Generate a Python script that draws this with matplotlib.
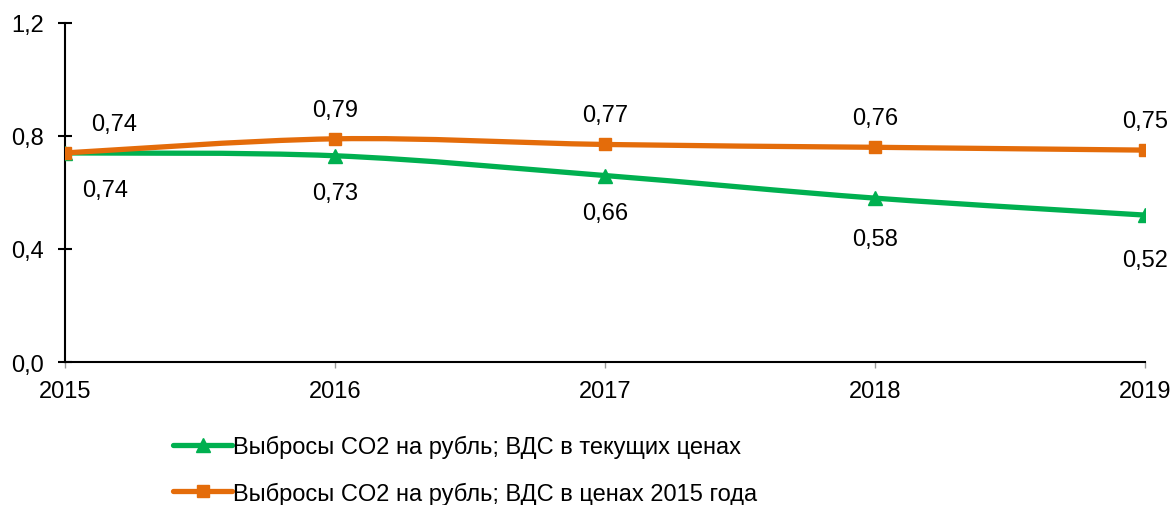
import matplotlib
matplotlib.use("Agg")
import matplotlib.pyplot as plt
from matplotlib.path import Path
from matplotlib.patches import PathPatch
from matplotlib.lines import Line2D
import numpy as np

plt.rcParams['font.family'] = ['Liberation Sans', 'DejaVu Sans']

years = [2015, 2016, 2017, 2018, 2019]
current_prices = [0.74, 0.73, 0.66, 0.58, 0.52]
prices_2015 = [0.74, 0.79, 0.77, 0.76, 0.75]
yticks = [0.0, 0.4, 0.8, 1.2]
label_current = "Выбросы CO2 на рубль; ВДС в текущих ценах"
label_2015 = "Выбросы CO2 на рубль; ВДС в ценах 2015 года"

GREEN = "#00B050"
ORANGE = "#E46C0A"
FS = 17

fig = plt.figure(figsize=(11.72, 5.06), dpi=100)
ax = fig.add_axes([0.0555, 0.2826, 0.9215, 0.67])


def smooth_path(xs, ys, t=1.0 / 6.0):
    xs = np.asarray(xs, float)
    ys = np.asarray(ys, float)
    n = len(xs)
    verts = [(xs[0], ys[0])]
    codes = [Path.MOVETO]
    for i in range(n - 1):
        p0 = (xs[i - 1], ys[i - 1]) if i > 0 else (xs[i], ys[i])
        p1 = (xs[i], ys[i])
        p2 = (xs[i + 1], ys[i + 1])
        p3 = (xs[i + 2], ys[i + 2]) if i + 2 < n else (xs[i + 1], ys[i + 1])
        c1 = (p1[0] + (p2[0] - p0[0]) * t, p1[1] + (p2[1] - p0[1]) * t)
        c2 = (p2[0] - (p3[0] - p1[0]) * t, p2[1] - (p3[1] - p1[1]) * t)
        verts += [c1, c2, p2]
        codes += [Path.CURVE4] * 3
    return Path(verts, codes)


for vals, col, mk, ms in [(current_prices, GREEN, '^', 9.5), (prices_2015, ORANGE, 's', 9)]:
    ax.add_patch(PathPatch(smooth_path(years, vals), facecolor='none', edgecolor=col,
                           lw=3.8, capstyle='round', zorder=3))
    ax.plot(years, vals, linestyle='none', marker=mk, color=col, markersize=ms, zorder=4)

for i, (x, v) in enumerate(zip(years, current_prices)):
    dx = 29 if i == 0 else 0
    dy = -27 - 2.5 * max(0, i - 2)
    ax.annotate(f"{v:.2f}".replace('.', ','), (x, v), xytext=(dx, dy), textcoords='offset points',
                ha='center', va='center', fontsize=FS, color='black')
for i, (x, v) in enumerate(zip(years, prices_2015)):
    dx = 35 if i == 0 else 0
    ax.annotate(f"{v:.2f}".replace('.', ','), (x, v), xytext=(dx, 21), textcoords='offset points',
                ha='center', va='center', fontsize=FS, color='black')

ax.set_xlim(years[0], years[-1])
ax.set_ylim(0, 1.2)
ax.set_xticks(years)
ax.set_xticklabels([str(y) for y in years], fontsize=FS)
ax.set_yticks(yticks)
ax.set_yticklabels([f"{v:.1f}".replace('.', ',') for v in yticks], fontsize=FS)
for s in ['top', 'right']:
    ax.spines[s].set_visible(False)
ax.spines['left'].set_linewidth(1.5)
ax.spines['bottom'].set_linewidth(1.5)
ax.tick_params(axis='y', direction='inout', length=10, width=1.5, pad=10)
ax.tick_params(axis='x', direction='out', length=4.3, width=1, color='#999999', pad=9)

handles = [
    Line2D([], [], color=GREEN, lw=3.8, marker='^', markersize=9.5, solid_capstyle='round'),
    Line2D([], [], color=ORANGE, lw=3.8, marker='s', markersize=9, solid_capstyle='round'),
]
fig.legend(handles, [label_current, label_2015], loc='center', bbox_to_anchor=(0.397, 0.07),
           frameon=False, fontsize=FS, handlelength=2.5, handletextpad=0.05, labelspacing=1.0,
           numpoints=1)

fig.savefig("out.png", dpi=100)
